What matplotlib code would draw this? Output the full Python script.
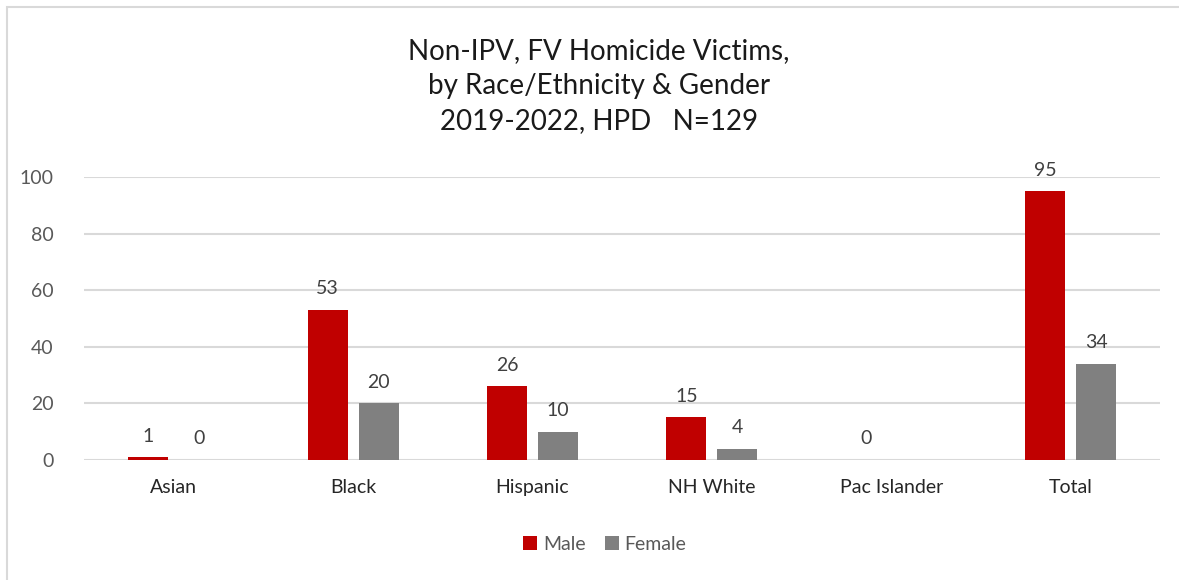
import numpy as np
import matplotlib.pyplot as plt
from matplotlib.patches import Rectangle

plt.rcParams['font.family'] = ['Lato', 'DejaVu Sans']

categories = ['Asian', 'Black', 'Hispanic', 'NH White', 'Pac Islander', 'Total']
male = [1, 53, 26, 15, 0, 95]
female = [0, 20, 10, 4, np.nan, 34]

RED = '#c00000'
GRAY = '#808080'
TEXT = '#595959'

fig = plt.figure(figsize=(11.79, 5.80), dpi=100)
# outer chart border (runs off the bottom and right edges, as in the screenshot)
fig.patches.append(Rectangle((0.006, -0.1), 1.2, 1.088, transform=fig.transFigure,
                             fill=False, edgecolor='#d9d9d9', lw=1.5))
ax = fig.add_axes([0.0712, 0.207, 0.913, 0.488])

x = np.arange(len(categories))
w = 0.223
off = 0.142
bm = ax.bar(x - off, male, w, color=RED, label='Male', zorder=3)
bf = ax.bar(x + off, np.nan_to_num(female), w, color=GRAY, label='Female', zorder=3)

for xi, v in zip(x, male):
    ax.annotate(f'{v:g}', (xi - off, v), xytext=(0, 9), textcoords='offset points',
                ha='center', va='bottom', fontsize=14, color='#404040')
for xi, v in zip(x, female):
    if np.isnan(v):
        continue
    ax.annotate(f'{v:g}', (xi + off, v), xytext=(0, 9), textcoords='offset points',
                ha='center', va='bottom', fontsize=14, color='#404040')

ax.set_xlim(-0.5, len(categories) - 0.5)
ax.set_ylim(0, 100)
ax.set_yticks(range(0, 101, 20))
ax.yaxis.grid(True, color='#d9d9d9', lw=1.5, zorder=0)
for s in ax.spines.values():
    s.set_visible(False)
ax.tick_params(axis='both', length=0, labelsize=14, labelcolor=TEXT)
ax.tick_params(axis='y', pad=22)
ax.tick_params(axis='x', pad=14)
ax.set_xticks(x)
ax.set_xticklabels(categories)
for lbl in ax.get_xticklabels():
    lbl.set_color('#262626')

fig.text(0.508, 0.852, 'Non-IPV, FV Homicide Victims,\nby Race/Ethnicity & Gender\n2019-2022, HPD   N=129',
         ha='center', va='center', fontsize=20, color='#1a1a1a', linespacing=1.42)

fig.legend(handles=[bm, bf], loc='center', bbox_to_anchor=(0.513, 0.062), ncol=2,
           frameon=False, fontsize=14, handlelength=0.7, handleheight=0.7,
           handletextpad=0.3, columnspacing=1.0, labelcolor=TEXT)

fig.savefig('out.png', dpi=100)
